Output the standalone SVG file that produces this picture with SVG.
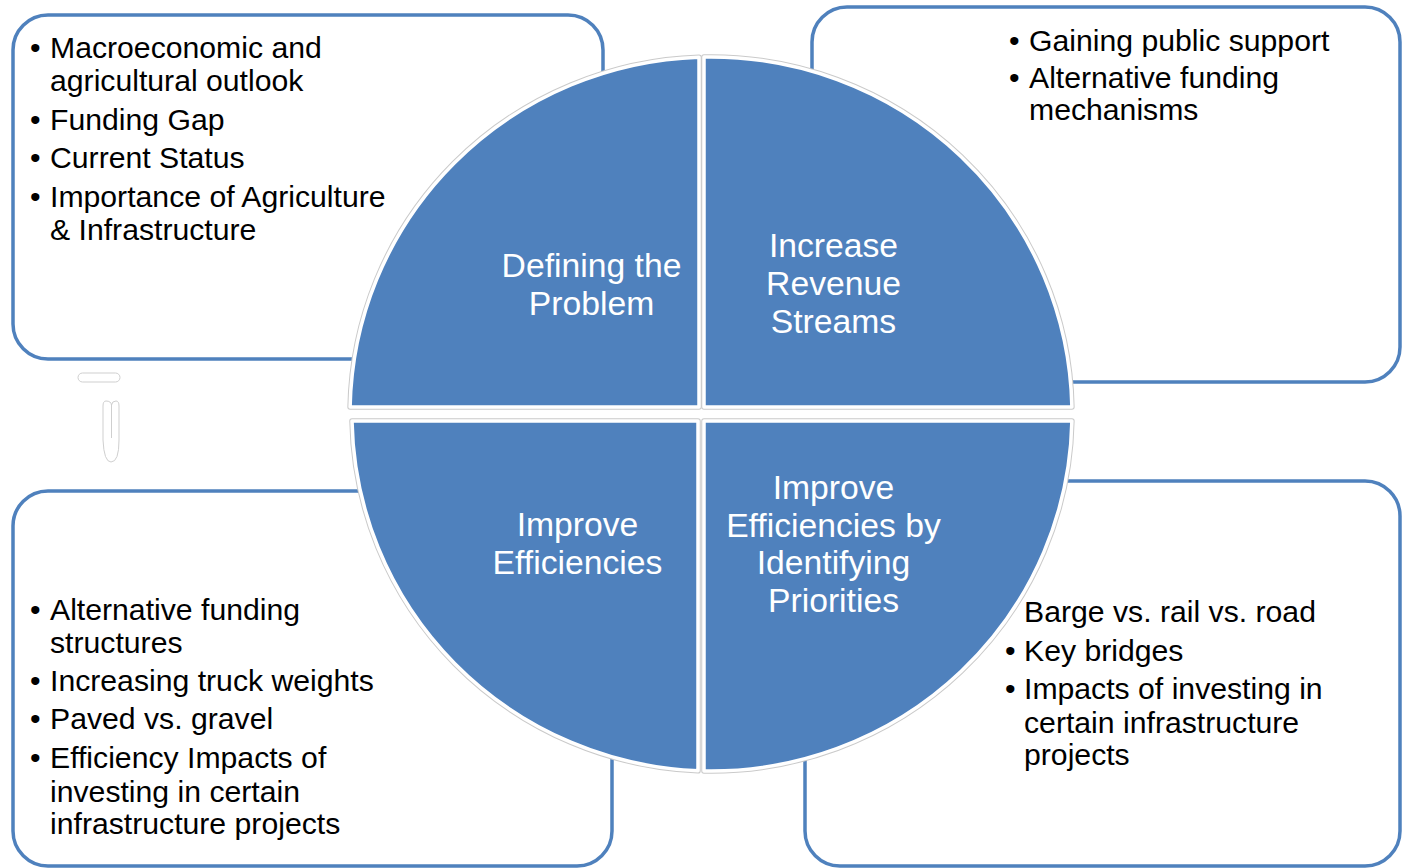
<svg xmlns="http://www.w3.org/2000/svg" width="1402" height="868" viewBox="0 0 1402 868">
<style>
.box{fill:#ffffff;stroke:#4F81BD;stroke-width:3.5}
.bt{font-family:"Liberation Sans",Arial,sans-serif;font-size:30.2px;fill:#000000}
.qo{fill:none;stroke:#cacaca;stroke-width:5.5;stroke-linejoin:round}
.q{fill:#4F81BD;stroke:#ffffff;stroke-width:3.5;stroke-linejoin:round}
.qt{font-family:"Liberation Sans",Arial,sans-serif;font-size:33.7px;fill:#ffffff;text-anchor:middle}
.art{fill:none;stroke:#cfcfcf;stroke-width:1}
</style>
<rect width="1402" height="868" fill="#ffffff"/>

<g id="box-top-left">
<rect class="box" x="13" y="15" width="590" height="344" rx="35"/>
<text class="bt"><tspan x="30" y="58">•</tspan><tspan x="50" y="58">Macroeconomic and</tspan><tspan x="50" y="91">agricultural outlook</tspan><tspan x="30" y="129.5">•</tspan><tspan x="50" y="129.5">Funding Gap</tspan><tspan x="30" y="168">•</tspan><tspan x="50" y="168">Current Status</tspan><tspan x="30" y="206.5">•</tspan><tspan x="50" y="206.5">Importance of Agriculture</tspan><tspan x="50" y="240">&amp; Infrastructure</tspan></text>
</g>

<g id="box-top-right">
<rect class="box" x="812" y="7" width="588" height="375" rx="35"/>
<text class="bt"><tspan x="1009" y="51">•</tspan><tspan x="1029" y="51">Gaining public support</tspan><tspan x="1009" y="88">•</tspan><tspan x="1029" y="88">Alternative funding</tspan><tspan x="1029" y="120">mechanisms</tspan></text>
</g>

<g id="box-bottom-left">
<rect class="box" x="13" y="491" width="599" height="375" rx="35"/>
<text class="bt"><tspan x="30" y="619.5">•</tspan><tspan x="50" y="619.5">Alternative funding</tspan><tspan x="50" y="652.5">structures</tspan><tspan x="30" y="690.5">•</tspan><tspan x="50" y="690.5">Increasing truck weights</tspan><tspan x="30" y="729">•</tspan><tspan x="50" y="729">Paved vs. gravel</tspan><tspan x="30" y="768">•</tspan><tspan x="50" y="768">Efficiency Impacts of</tspan><tspan x="50" y="801.5">investing in certain</tspan><tspan x="50" y="834">infrastructure projects</tspan></text>
</g>

<g id="box-bottom-right">
<rect class="box" x="805" y="481" width="595" height="385" rx="35"/>
<text class="bt"><tspan x="1024" y="622">Barge vs. rail vs. road</tspan><tspan x="1005" y="660.5">•</tspan><tspan x="1024" y="660.5">Key bridges</tspan><tspan x="1005" y="699">•</tspan><tspan x="1024" y="699">Impacts of investing in</tspan><tspan x="1024" y="732.5">certain infrastructure</tspan><tspan x="1024" y="764.5">projects</tspan></text>
</g>

<g id="quadrant-defining">
<path class="qo" d="M699,407 L699,57.2 A361,357 0 0,0 350.1,407 Z"/>
<path class="q" d="M699,407 L699,57.2 A361,357 0 0,0 350.1,407 Z"/>
<text class="qt"><tspan x="591.5" y="277">Defining the</tspan><tspan x="591.5" y="315">Problem</tspan></text>
</g>

<g id="quadrant-revenue">
<path class="qo" d="M704,407 L704,57.1 A361,357 0 0,1 1071.9,407 Z"/>
<path class="q" d="M704,407 L704,57.1 A361,357 0 0,1 1071.9,407 Z"/>
<text class="qt"><tspan x="833.5" y="257">Increase</tspan><tspan x="833.5" y="295">Revenue</tspan><tspan x="833.5" y="333">Streams</tspan></text>
</g>

<g id="quadrant-efficiencies">
<path class="qo" d="M698,421 L352,421 A361,357 0 0,0 698,770.8 Z"/>
<path class="q" d="M698,421 L352,421 A361,357 0 0,0 698,770.8 Z"/>
<text class="qt"><tspan x="577.5" y="536">Improve</tspan><tspan x="577.5" y="574">Efficiencies</tspan></text>
</g>

<g id="quadrant-priorities">
<path class="qo" d="M704,421 L704,770.9 A361,357 0 0,0 1071.9,421 Z"/>
<path class="q" d="M704,421 L704,770.9 A361,357 0 0,0 1071.9,421 Z"/>
<text class="qt"><tspan x="833.5" y="499">Improve</tspan><tspan x="833.5" y="537">Efficiencies by</tspan><tspan x="833.5" y="574">Identifying</tspan><tspan x="833.5" y="612">Priorities</tspan></text>
</g>

<g id="artifacts">
<rect class="art" x="78" y="373" width="42" height="9" rx="4.5"/>
<path class="art" d="M106,401 Q103,401 103,406 L103,440 Q104,462 111,462 Q119,462 119,440 L119,406 Q119,401 116,401 Q112,401 111.5,405 Q111,401 106,401 Z M111.5,405 L111.5,438"/>
</g>

<g id="connectors"/>
</svg>
